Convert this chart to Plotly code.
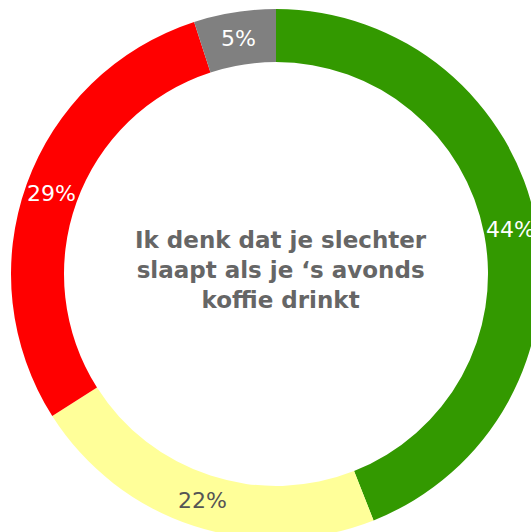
import numpy as np
import plotly.graph_objects as go

# antwoorden op de stelling
labels = ["Eens", "Neutraal", "Oneens", "Weet niet"]
values = [44, 22, 29, 5]
colors = ["#339900", "#ffff99", "#ff0000", "#808080"]
text_colors = ["white", "#555555", "white", "white"]

question = "Ik denk dat je slechter<br>slaapt als je ‘s avonds<br>koffie drinkt"

hole = 0.8

fig = go.Figure()
fig.add_trace(go.Pie(
    labels=labels, values=values, hole=hole, sort=False, direction="clockwise",
    rotation=0, textinfo="none",
    marker=dict(colors=colors, line=dict(width=0)),
    showlegend=False, hoverinfo="label+percent",
))

# percentage labels at the middle of each ring segment, kept horizontal
vals = np.array(values, dtype=float)
frac = vals / vals.sum()
mid = np.cumsum(frac) - frac / 2
ang = 2 * np.pi * mid
r = 0.5 * (1 + hole) / 2
for f, a, c in zip(frac, ang, text_colors):
    fig.add_annotation(text=f"{f:.0%}", x=0.5 + r * np.sin(a), y=0.5 + r * np.cos(a),
                       xref="paper", yref="paper", xanchor="center", yanchor="middle",
                       showarrow=False,
                       font=dict(family="DejaVu Sans", size=22, color=c))

fig.add_annotation(text=question, x=0.5, y=0.5, xref="paper", yref="paper",
                   xanchor="center", yanchor="middle",
                   showarrow=False, align="center", xshift=5, yshift=4,
                   font=dict(family="DejaVu Sans", size=23, color="#666666", weight="bold"))

# the donut runs a bit past the right and bottom edge of the window
fig.update_layout(width=552, height=548, autosize=False,
                  margin=dict(l=11, r=11, t=9, b=9),
                  paper_bgcolor="white", plot_bgcolor="white")

fig.write_html("out.html", config={"displayModeBar": False},
               post_script="document.body.style.margin='0';document.body.style.overflow='hidden';")
